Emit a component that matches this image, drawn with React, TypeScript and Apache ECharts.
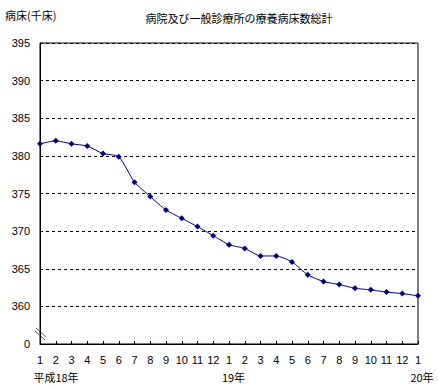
import React, { useEffect, useRef } from "react";
import * as echarts from "echarts";

const months = ["1","2","3","4","5","6","7","8","9","10","11","12","1","2","3","4","5","6","7","8","9","10","11","12","1"];
const beds = [381.6, 382.0, 381.6, 381.3, 380.3, 379.9, 376.5, 374.6, 372.8, 371.7, 370.6, 369.4, 368.2, 367.7, 366.7, 366.7, 365.9, 364.2, 363.3, 362.9, 362.4, 362.2, 361.9, 361.7, 361.4];
const yearLabels = ["平成18年", "19年", "20年"];
const yearIdx = [0, 12, 24];
const title = "病院及び一般診療所の療養病床数総計";
const unitLabel = "病床(千床)";

const FONT = "'Noto Sans CJK JP', 'Liberation Sans', sans-serif";

export default function App() {
  const ref = useRef<HTMLDivElement>(null);
  useEffect(() => {
    const chart = echarts.init(ref.current!, null, { renderer: "svg" });
    chart.setOption({
      animation: false,
      backgroundColor: "#ffffff",
      textStyle: { fontFamily: FONT, color: "#000" },
      title: {
        text: title,
        left: 234,
        textAlign: "center",
        top: 7,
        textStyle: { fontSize: 11, fontWeight: "normal", color: "#000", fontFamily: FONT },
      },
      graphic: [
        { type: "text", left: 5, top: 9, style: { text: unitLabel, fontSize: 11, fill: "#000", fontFamily: FONT } },
        { type: "line", shape: { x1: 35, y1: 331, x2: 45, y2: 340 }, style: { stroke: "#555", lineWidth: 1 } },
        { type: "line", shape: { x1: 36, y1: 328, x2: 46, y2: 337 }, style: { stroke: "#555", lineWidth: 1 } },
      ],
      grid: {
        left: 40,
        right: 21,
        top: 43,
        bottom: 45,
        show: true,
        borderColor: "#000",
        borderWidth: 1,
        backgroundColor: "transparent",
      },
      xAxis: [
        {
          type: "category",
          data: months,
          boundaryGap: false,
          axisLine: { lineStyle: { color: "#000", width: 1 } },
          axisTick: { show: true, inside: true, length: 3, interval: 0, lineStyle: { color: "#000" } },
          axisLabel: { interval: 0, margin: 10, fontSize: 11, color: "#000", fontFamily: "'Liberation Sans', sans-serif" },
          splitLine: { show: false },
        },
        {
          type: "category",
          data: months,
          position: "bottom",
          boundaryGap: false,
          axisLine: { show: false },
          axisTick: { show: false },
          axisLabel: {
            interval: 0,
            margin: 27,
            fontSize: 11,
            color: "#000",
            fontFamily: FONT,
            formatter: (_v: string, i: number) => {
              const k = yearIdx.indexOf(i);
              if (k < 0) return "";
              const key = k === 0 ? "a" : k === 1 ? "b" : "c";
              return "{" + key + "|" + yearLabels[k] + "}";
            },
            rich: {
              a: { padding: [0, 0, 0, 32], fontSize: 11, fontFamily: FONT, color: "#000" },
              b: { padding: [0, 0, 0, 9], fontSize: 11, fontFamily: FONT, color: "#000" },
              c: { padding: [0, 0, 0, 8], fontSize: 11, fontFamily: FONT, color: "#000" },
            },
          },
          splitLine: { show: false },
        },
      ],
      yAxis: {
        type: "value",
        min: 355,
        max: 395,
        interval: 5,
        axisLine: { show: true, lineStyle: { color: "#000", width: 1 } },
        axisTick: { show: false },
        axisLabel: {
          fontSize: 11,
          color: "#000",
          margin: 10,
          fontFamily: "'Liberation Sans', sans-serif",
          formatter: (v: number) => (v === 355 ? "0" : String(v)),
        },
        splitLine: { show: true, lineStyle: { color: "#000", type: [3, 3], width: 1 } },
      },
      series: [
        {
          type: "line",
          data: beds,
          xAxisIndex: 0,
          symbol: "diamond",
          symbolSize: 6,
          lineStyle: { color: "#000080", width: 1 },
          itemStyle: { color: "#000080" },
          smooth: 0.2,
        },
      ],
    });
    return () => chart.dispose();
  }, []);
  return <div ref={ref} style={{ width: 439, height: 389, position: "absolute", left: 0, top: 0 }} />;
}
